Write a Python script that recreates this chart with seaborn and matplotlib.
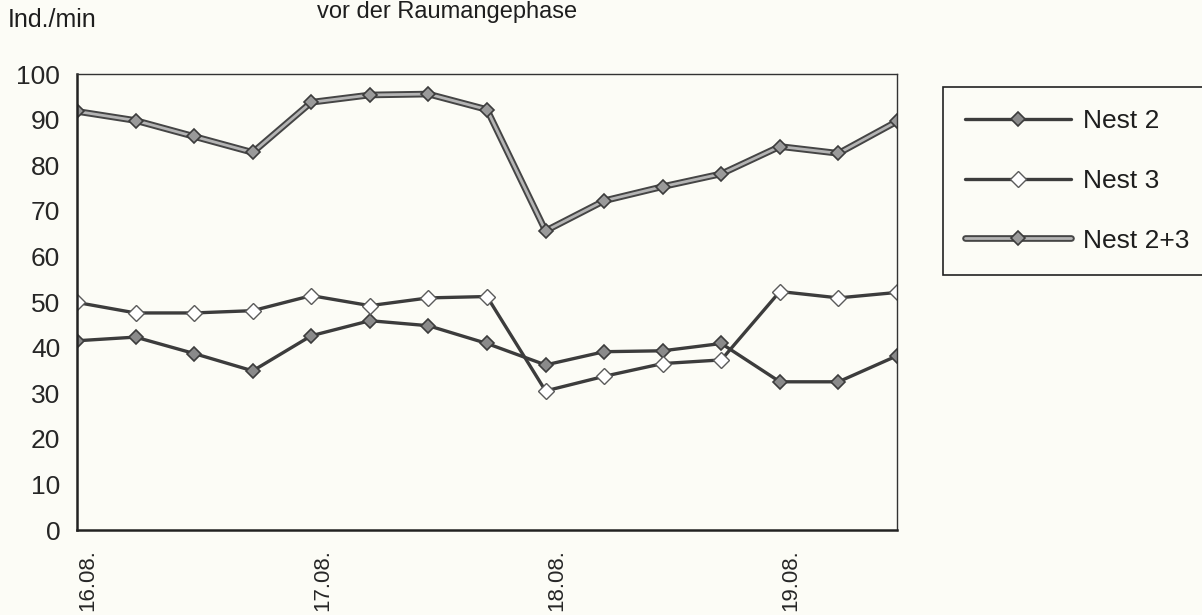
import numpy as np
import pandas as pd
import matplotlib
matplotlib.use("Agg")
import matplotlib.pyplot as plt
import matplotlib.patheffects as pe
import matplotlib.transforms as mtransforms
from matplotlib.legend_handler import HandlerTuple
import seaborn as sns

# ---- data ----
tick_labels = ["16.08.", "", "", "", "17.08.", "", "", "", "18.08.", "", "", "", "19.08.", "", ""]
nest2 = [41.5, 42.3, 38.7, 34.9, 42.6, 45.9, 44.8, 40.9, 36.2, 39.1, 39.3, 40.9, 32.5, 32.5, 38.2]
nest3 = [49.9, 47.6, 47.6, 48.1, 51.4, 49.2, 50.9, 51.2, 30.5, 33.7, 36.5, 37.3, 52.3, 50.9, 52.1]
nest23 = [91.8, 89.8, 86.3, 82.8, 93.8, 95.4, 95.6, 92.2, 65.6, 72.2, 75.3, 78.1, 84.1, 82.6, 89.6]
series_names = ["Nest 2", "Nest 3", "Nest 2+3"]
y_label = "Ind./min"
title_text = "vor der Raumangephase"
y_ticks = [0, 10, 20, 30, 40, 50, 60, 70, 80, 90, 100]

sns.set_style("white")
plt.rcParams["font.family"] = ["Liberation Sans", "DejaVu Sans"]

bg = "#fcfcf6"
W, H = 1202, 615
fig = plt.figure(figsize=(W / 100, H / 100), dpi=100, facecolor=bg)
ax = fig.add_axes([77 / W, 1 - 530 / H, (897 - 77) / W, (530 - 74) / H])
ax.set_facecolor(bg)

pos = np.arange(len(nest2))

sns.lineplot(x=pos, y=nest2, ax=ax, color="#3c3c3c", linewidth=2.4,
             marker="D", markersize=7, markerfacecolor="#8a8a8a",
             markeredgecolor="#3c3c3c", markeredgewidth=1.2, label=series_names[0])
sns.lineplot(x=pos, y=nest3, ax=ax, color="#3c3c3c", linewidth=2.4,
             marker="D", markersize=8.5, markerfacecolor="white",
             markeredgecolor="#5a5a5a", markeredgewidth=1.0, label=series_names[1])
# Nest 2+3: double-edged line, then markers on top
sns.lineplot(x=pos, y=nest23, ax=ax, color="#b4b4b4", linewidth=2.0,
             label=series_names[2],
             path_effects=[pe.Stroke(linewidth=4.8, foreground="#454545"), pe.Normal()])
sns.lineplot(x=pos, y=nest23, ax=ax, color="#3c3c3c", linestyle="none",
             marker="D", markersize=7.5, markerfacecolor="#9a9a9a",
             markeredgecolor="#3c3c3c", markeredgewidth=1.2, label="_m23")

lines = ax.get_lines()
h_n2, h_n3, h_n23, h_m23 = lines[0], lines[1], lines[2], lines[3]

ax.set_xlim(0, len(pos) - 1)
ax.set_ylim(0, 100)
ax.set_yticks(y_ticks)
ax.set_yticklabels([str(v) for v in y_ticks], fontsize=19)
ax.set_xticks(pos)
ax.set_xticklabels(tick_labels, rotation=90, fontsize=16)
ax.tick_params(axis="both", direction="out", length=6, width=1.5, color="#222222")
ax.tick_params(axis="y", pad=6)
ax.tick_params(axis="x", pad=8)
offset = mtransforms.ScaledTranslation(11 / 100, 0, fig.dpi_scale_trans)
for lbl in ax.get_xticklabels():
    lbl.set_transform(lbl.get_transform() + offset)
    lbl.set_va("top")

for side in ["left", "bottom"]:
    ax.spines[side].set_linewidth(1.8)
    ax.spines[side].set_color("#222222")
for side in ["top", "right"]:
    ax.spines[side].set_linewidth(1.0)
    ax.spines[side].set_color("#333333")
ax.set_xlabel("")
ax.set_ylabel("")

fig.text(8 / W, 1 - 27 / H, y_label, fontsize=18, ha="left", va="baseline", color="#1e1e1e")
fig.text(317 / W, 1 - 1 / H, title_text, fontsize=17, ha="left", va="top", color="#1e1e1e")

leg = ax.legend(handles=[h_n2, h_n3, (h_n23, h_m23)], labels=series_names,
                handler_map={tuple: HandlerTuple(ndivide=1)},
                loc="upper left", bbox_to_anchor=(943 / W, 1 - 87 / H),
                bbox_transform=fig.transFigure, borderaxespad=0, fontsize=19,
                frameon=True, fancybox=False, shadow=False, handlelength=4.0,
                handletextpad=0.45, labelspacing=1.35, borderpad=0.85)
frame = leg.get_frame()
frame.set_edgecolor("#222222")
frame.set_linewidth(1.2)
frame.set_facecolor(bg)
frame.set_alpha(1)
for t in leg.get_texts():
    t.set_color("#1e1e1e")

fig.savefig("out.png", dpi=100, facecolor=bg)
